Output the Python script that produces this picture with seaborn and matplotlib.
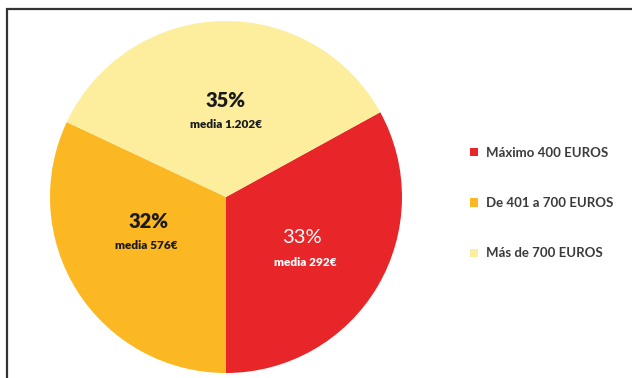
import matplotlib
matplotlib.use("Agg")
import matplotlib.pyplot as plt
import matplotlib.patches as mpatches
import seaborn as sns

categories = ["Máximo 400 EUROS", "De 401 a 700 EUROS", "Más de 700 EUROS"]
shares = [33, 32, 35]
pct_labels = ["33%", "32%", "35%"]
media_labels = ["media 292€", "media 576€", "media 1.202€"]
colors = ["#E82629", "#FBB823", "#FCEE9C"]
text_colors = ["#FFFFFF", "#1A1A1A", "#1A1A1A"]

sns.set_theme(style="white")
plt.rcParams["font.family"] = ["Lato", "DejaVu Sans"]

fig = plt.figure(figsize=(6.32, 3.78), dpi=100)
fig.patch.set_facecolor("white")

# frame (right and bottom edges fall outside the picture)
frame = mpatches.Rectangle((7 / 632, -0.1), 1.2, (378 - 9) / 378 + 0.1,
                           transform=fig.transFigure, fill=False,
                           edgecolor="#333333", linewidth=1.6, clip_on=False)
fig.add_artist(frame)

cx, cy, r = 226, 197, 176
W, H = 632, 378
ax = fig.add_axes([(cx - r) / W, (H - cy - r) / H, 2 * r / W, 2 * r / H])
wedges, _ = ax.pie(shares, colors=colors, startangle=28.8, counterclock=False,
                   radius=1.0, wedgeprops=dict(linewidth=0))
ax.set_xlim(-1, 1)
ax.set_ylim(-1, 1)
ax.set_axis_off()

# label positions in data units of the pie axes (center at 0,0, radius 1)
pct_pos = [(0.43, -0.23), (-0.44, -0.14), (0.0, 0.55)]
med_pos = [(0.45, -0.375), (-0.45, -0.275), (0.0, 0.41)]
pct_weight = ["normal", "heavy", "heavy"]
for i in range(3):
    ax.text(*pct_pos[i], pct_labels[i], ha="center", va="center",
            fontsize=14.5, fontweight=pct_weight[i], color=text_colors[i])
    ax.text(*med_pos[i], media_labels[i], ha="center", va="center",
            fontsize=8.5, fontweight="heavy", color=text_colors[i])

leg = fig.legend(wedges, categories, loc="upper left",
                 bbox_to_anchor=(458 / W, 1 - 135 / H), frameon=False,
                 handlelength=0.6, handleheight=0.6,
                 handletextpad=0.6, labelspacing=2.9,
                 prop=dict(family=["Lato", "DejaVu Sans"], weight="bold", size=9.5))
for t in leg.get_texts():
    t.set_color("#3a3a3a")

fig.savefig("out.png", dpi=100, facecolor="white")
